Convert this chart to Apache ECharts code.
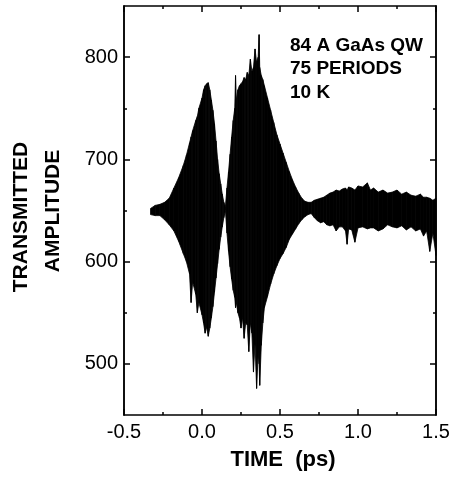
<!DOCTYPE html>
<html><head><meta charset="utf-8">
<script src="https://cdn.jsdelivr.net/npm/echarts@6/dist/echarts.min.js"></script>
<style>html,body{margin:0;padding:0;background:#fff}#c{width:450px;height:479px}</style>
</head><body><div id="c"></div>
<script>
// Envelope of the transmitted waveform (time in ps)
const timePs = [-0.33,-0.30,-0.27,-0.24,-0.21,-0.18,-0.15,-0.12,-0.10,-0.08,-0.07,-0.06,-0.04,-0.03,-0.02,0.00,0.01,0.02,0.03,0.04,0.05,0.06,0.07,0.08,0.09,0.10,0.11,0.12,0.13,0.14,0.15,0.16,0.17,0.18,0.19,0.20,0.21,0.215,0.22,0.23,0.24,0.25,0.26,0.27,0.28,0.29,0.30,0.31,0.32,0.33,0.34,0.35,0.36,0.366,0.37,0.38,0.39,0.40,0.42,0.44,0.46,0.48,0.50,0.52,0.54,0.56,0.58,0.60,0.62,0.64,0.66,0.68,0.70,0.72,0.74,0.76,0.78,0.80,0.82,0.84,0.86,0.88,0.90,0.92,0.93,0.94,0.96,0.98,1.00,1.03,1.06,1.08,1.10,1.13,1.16,1.19,1.22,1.25,1.28,1.31,1.34,1.37,1.40,1.42,1.44,1.46,1.48,1.50];
const upperEnv = [652,655,656,658,662,672,682,694,704,716,722,728,738,742,750,760,768,772,774,775,768,758,748,735,718,700,686,676,666,658,654,672,688,705,722,738,750,782,758,768,772,774,776,780,778,785,782,798,786,790,808,795,800,822,790,782,778,772,760,748,736,724,715,706,697,688,680,673,667,662,659,658,658,660,661,662,663,665,667,668,670,669,671,672,670,673,672,670,674,673,677,670,672,668,670,667,668,670,666,668,665,664,666,663,663,662,660,662];
const lowerEnv = [646,645,645,641,636,630,620,608,600,588,560,580,568,550,560,548,540,530,536,527,535,545,556,570,584,598,612,624,634,643,650,628,610,595,583,572,565,555,560,550,545,535,545,525,540,538,512,540,530,492,520,476,510,500,479,518,540,555,566,578,588,596,603,608,614,622,627,632,637,641,644,646,647,643,640,638,639,636,635,636,630,634,634,630,617,632,631,619,633,634,632,633,633,630,632,636,634,633,635,631,634,630,632,625,630,610,628,606];

const xLabelTicks = [-0.5, 0.0, 0.5, 1.0, 1.5];
const yMajorTicks = [500, 600, 700, 800];
const yMinorTicks = [550, 650, 750];
const annotationLines = ['84 A GaAs QW', '75 PERIODS', '10 K'];
const xTitle = 'TIME  (ps)';
const yTitleLines = ['TRANSMITTED', 'AMPLITUDE'];

const FONT = "'Liberation Sans', Arial, Helvetica, sans-serif";
// one segment per neighbouring pair of envelope samples
const segData = [];
for (let i = 0; i < timePs.length - 1; i++) {
  segData.push([timePs[i], upperEnv[i], lowerEnv[i], timePs[i + 1], upperEnv[i + 1], lowerEnv[i + 1]]);
}

const axisLine = {show: true, onZero: false, lineStyle: {color: '#000', width: 1.5}};
function xAx(pos, labels) {
  return {
    type: 'value', position: pos, min: -0.5, max: 1.5, interval: 0.5,
    axisLine: axisLine,
    axisTick: {show: true, inside: true, length: 6, lineStyle: {color: '#000', width: 1.5}},
    minorTick: {show: true, splitNumber: 2, length: 3, lineStyle: {color: '#000', width: 1.5}},
    axisLabel: {show: labels, formatter: v => v.toFixed(1), color: '#000', fontSize: 20, fontFamily: FONT, margin: 7},
    splitLine: {show: false}, minorSplitLine: {show: false}
  };
}
function yAx(pos, ticks, len, labels) {
  return {
    type: 'value', position: pos, min: 450, max: 850,
    axisLine: axisLine,
    axisTick: {show: true, inside: true, length: len, customValues: ticks, lineStyle: {color: '#000', width: 1.5}},
    axisLabel: {show: labels, customValues: ticks, color: '#000', fontSize: 20, fontFamily: FONT, margin: 6},
    splitLine: {show: false}
  };
}

const chart = echarts.init(document.getElementById('c'), null, {renderer: 'canvas'});
chart.setOption({
  backgroundColor: '#fff',
  animation: false,
  grid: {left: 124, right: 14, top: 6, bottom: 64, outerBoundsMode: 'none', containLabel: false},
  xAxis: [xAx('bottom', true), xAx('top', false)],
  yAxis: [yAx('left', yMajorTicks, 6, true), yAx('left', yMinorTicks, 3, false),
          yAx('right', yMajorTicks, 6, false), yAx('right', yMinorTicks, 3, false)],
  series: [{
    type: 'custom', name: 'envelope', data: segData, xAxisIndex: 0, yAxisIndex: 0,
    encode: {x: [0, 3], y: [1, 2, 4, 5]},
    renderItem: function (params, api) {
      const pts = [
        api.coord([api.value(0), api.value(1)]),
        api.coord([api.value(3), api.value(4)]),
        api.coord([api.value(3), api.value(5)]),
        api.coord([api.value(0), api.value(2)])
      ];
      return {type: 'polygon', shape: {points: pts}, style: {fill: '#000', stroke: '#000', lineWidth: 0.8}};
    }
  }],
  graphic: [
    ...annotationLines.map((s, i) => ({
      type: 'text', x: 290, y: [45.5, 69, 92.5][i],
      style: {text: s, font: 'bold 19px ' + FONT, fill: '#000', align: 'left', verticalAlign: 'middle'}
    })),
    {type: 'text', x: 283, y: 460, style: {text: xTitle, font: 'bold 22px ' + FONT, fill: '#000', align: 'center', verticalAlign: 'middle'}},
    ...yTitleLines.map((s, i) => ({
      type: 'text', x: [21, 53][i], y: [217, 211][i], rotation: Math.PI / 2,
      style: {text: s, font: 'bold 21px ' + FONT, fill: '#000', align: 'center', verticalAlign: 'middle'}
    }))
  ]
});
</script></body></html>
